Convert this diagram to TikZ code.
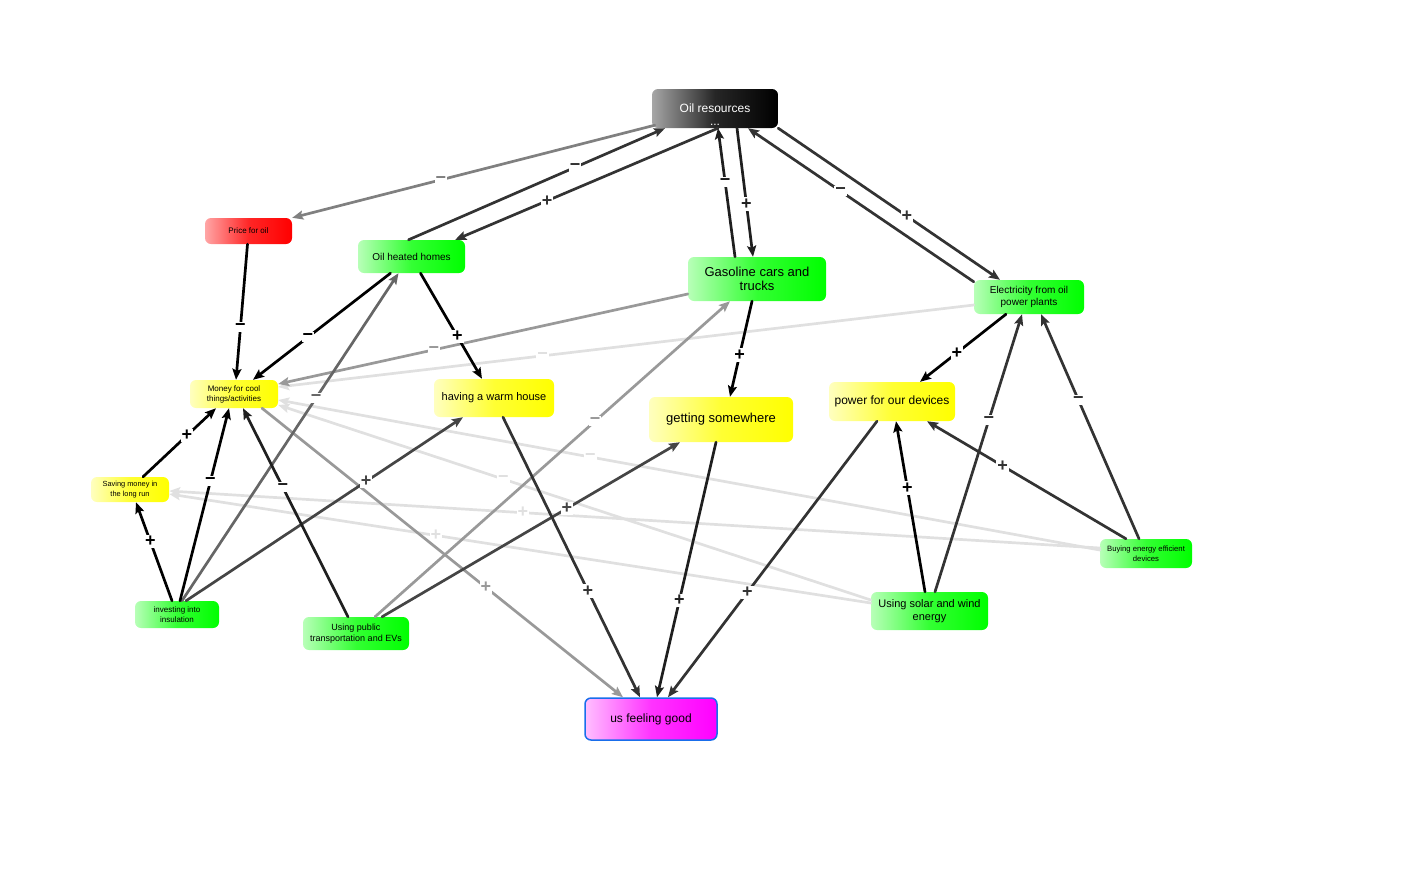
\documentclass[tikz,border=0pt]{standalone}
\usepackage{fontspec}
\setmainfont{Liberation Sans}
\usetikzlibrary{arrows.meta}
\definecolor{fbord}{RGB}{25,110,235}
\begin{document}
\begin{tikzpicture}[x=1pt,y=-1pt,line cap=round,line join=round,
  box/.style={rounded corners=6pt,align=center,inner sep=1pt,text=black},
  grn/.style={box,left color=green!28,right color=green,middle color=green!80},
  yel/.style={box,left color=yellow!25,right color=yellow,middle color=yellow!80},
  lnk/.style={line width=2.7pt,-{Stealth[length=11pt,width=9pt,inset=2pt]}},
  sg/.style={fill=white,inner xsep=1pt,inner ysep=1.5pt,pos=.62,font=\fontsize{18}{18}\selectfont\bfseries}]
\useasboundingbox (0,0) rectangle (1420,884);
\node[box,left color=black!35,right color=black,middle color=black!85,text=white,minimum width=126pt,minimum height=39pt,font=\fontsize{12}{13}\selectfont] (oil) at (715,108.5) {\rule{0pt}{21pt}Oil resources\\...};
\node[box,left color=red!35,right color=red,middle color=red!85,minimum width=87pt,minimum height=26pt,font=\fontsize{8}{9}\selectfont] (price) at (248.5,231) {Price for oil};
\node[grn,minimum width=107pt,minimum height=33pt,font=\fontsize{10}{12}\selectfont] (heat) at (411.5,256.5) {Oil heated homes};
\node[grn,minimum width=138pt,minimum height=44pt,font=\fontsize{13}{14}\selectfont] (gas) at (757,279) {Gasoline cars and\\trucks};
\node[grn,minimum width=110pt,minimum height=34pt,font=\fontsize{10}{12}\selectfont] (elec) at (1029,297) {Electricity from oil\\power plants};
\node[yel,minimum width=88pt,minimum height=28pt,font=\fontsize{8}{10}\selectfont] (money) at (234,394) {Money for cool\\things/activities};
\node[yel,minimum width=120pt,minimum height=38pt,font=\fontsize{11}{12}\selectfont] (warm) at (494,398) {having a warm house};
\node[yel,minimum width=144pt,minimum height=45pt,font=\fontsize{13}{14}\selectfont] (some) at (721,419.5) {getting somewhere};
\node[yel,minimum width=126pt,minimum height=39pt,font=\fontsize{12}{13}\selectfont] (dev) at (892,401.5) {power for our devices};
\node[yel,minimum width=78pt,minimum height=25pt,font=\fontsize{7.4}{9.3}\selectfont] (saving) at (130,489.5) {Saving money in\\the long run};
\node[grn,minimum width=84pt,minimum height=27pt,font=\fontsize{8}{10}\selectfont] (ins) at (177,614.5) {investing into\\insulation};
\node[grn,minimum width=106pt,minimum height=33pt,font=\fontsize{9}{11}\selectfont] (pub) at (356,633.5) {Using public\\transportation and EVs};
\node[grn,minimum width=117pt,minimum height=38pt,font=\fontsize{11}{12.5}\selectfont] (solar) at (929.5,611) {Using solar and wind\\energy};
\node[grn,minimum width=92pt,minimum height=29pt,font=\fontsize{7.7}{9.7}\selectfont] (buy) at (1146,553.5) {Buying energy efficient\\devices};
\node[box,left color=magenta!25,right color=magenta,middle color=magenta!80,draw=fbord,line width=1.5pt,minimum width=132pt,minimum height=42pt,font=\fontsize{12}{13}\selectfont] (feel) at (651,719) {us feeling good};
\draw[lnk,black!12] ([yshift=3.5pt]buy.west) -- node[sg]{−} ([yshift=-6pt]money.east);
\draw[lnk,black!12] ([yshift=11pt]solar.west) -- node[sg]{−} ([yshift=-11pt]money.east);
\draw[lnk,black!12] ([yshift=5.5pt]buy.west) -- node[sg]{+} ([yshift=-1.5pt]saving.east);
\draw[lnk,black!12] ([yshift=8pt]solar.west) -- node[sg]{+} ([yshift=-4.5pt]saving.east);
\draw[lnk,black!12] ([yshift=-8pt]elec.west) -- node[sg]{−} ([yshift=7pt]money.east);
\draw[lnk,black!40] ([yshift=-15pt]gas.west) -- node[sg]{−} ([yshift=10pt]money.east);
\draw[lnk,black!40] ([xshift=28pt]money.south) -- node[sg]{+} ([xshift=-28pt]feel.north);
\draw[lnk,black!40] ([xshift=19pt]pub.north) -- node[sg]{−} ([xshift=-27pt]gas.south);
\draw[lnk,black!50] ([xshift=3pt,yshift=3pt]oil.south west) -- node[sg,pos=.59]{−} (price.north east);
\draw[lnk,black!60] ([xshift=5pt]ins.north) -- node[sg]{−} ([xshift=-13pt]heat.south);
\draw[lnk,black!73] ([xshift=9pt]ins.north) -- node[sg,pos=.65]{+} ([xshift=-31pt]warm.south);
\draw[lnk,black!73] ([xshift=26pt]pub.north) -- node[sg]{+} ([xshift=-41pt]some.south);
\draw[lnk,black!80] ([xshift=-3pt]heat.north) -- node[sg,pos=.65]{−} ([xshift=-50pt]oil.south);
\draw[lnk,black!80] ([xshift=3pt]oil.south) -- node[sg,pos=.65]{+} ([xshift=-10pt]heat.north east);
\draw[lnk,black!80] ([yshift=-2pt]elec.north west) -- node[sg,pos=.59]{−} ([xshift=33pt]oil.south);
\draw[lnk,black!80] (oil.south east) -- node[sg,pos=.58]{+} ([xshift=-29pt]elec.north);
\draw[lnk,black!80] ([xshift=9pt]warm.south) -- node[sg]{+} ([xshift=-11pt]feel.north);
\draw[lnk,black!80] ([xshift=-15pt]dev.south) -- node[sg]{+} ([xshift=17pt]feel.north);
\draw[lnk,black!80] ([xshift=5.5pt]solar.north) -- node[sg]{−} ([xshift=-7pt]elec.south);
\draw[lnk,black!80] ([xshift=-7pt]buy.north) -- node[sg]{−} ([xshift=12pt]elec.south);
\draw[lnk,black!80] ([xshift=-20pt]buy.north) -- node[sg]{+} ([xshift=35pt]dev.south);
\draw[lnk,black!88] ([xshift=-22pt]gas.north) -- node[sg,pos=.58]{−} ([xshift=3pt]oil.south);
\draw[lnk,black!88] ([xshift=22pt]oil.south) -- node[sg,pos=.59]{+} ([xshift=-4pt]gas.north);
\draw[lnk,black!88] ([xshift=-8pt]pub.north) -- node[sg]{−} ([xshift=9pt]money.south);
\draw[lnk,black!88] ([xshift=-5pt]some.south) -- node[sg]{+} ([xshift=6pt]feel.north);
\draw[lnk,black] ([xshift=-1pt]price.south) -- node[sg,pos=.61]{−} ([xshift=2pt]money.north);
\draw[lnk,black] ([xshift=-21pt]heat.south) -- node[sg,pos=.6]{−} ([xshift=19pt]money.north);
\draw[lnk,black] ([xshift=9pt]heat.south) -- node[sg,pos=.6]{+} ([xshift=-12pt]warm.north);
\draw[lnk,black] ([xshift=-5pt]gas.south) -- node[sg,pos=.56]{+} ([xshift=9pt]some.north);
\draw[lnk,black] ([xshift=-23pt]elec.south) -- node[sg,pos=.57]{+} ([xshift=28pt]dev.north);
\draw[lnk,black] ([xshift=-5pt]ins.north) -- node[sg,pos=.6]{+} ([xshift=6pt]saving.south);
\draw[lnk,black] ([xshift=3pt]ins.north) -- node[sg]{−} ([xshift=-5pt]money.south);
\draw[lnk,black] ([xshift=13pt]saving.north) -- node[sg,pos=.6]{+} ([xshift=-18pt]money.south);
\draw[lnk,black] ([xshift=-4.5pt]solar.north) -- node[sg,pos=.61]{+} ([xshift=4pt]dev.south);
\end{tikzpicture}
\end{document}
